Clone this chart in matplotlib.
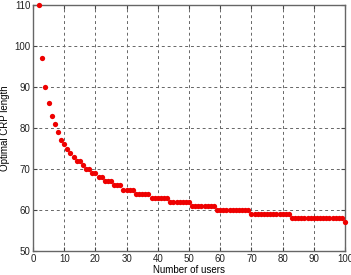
import matplotlib
matplotlib.use('Agg')
import matplotlib.pyplot as plt

plt.rcParams['font.family'] = ['Liberation Sans', 'DejaVu Sans']

# number of users 2..100 and the optimal CRP length
users = list(range(2, 101))
crp_len = [110, 97, 90, 86, 83, 81, 79, 77, 76, 75,
           74, 73, 72, 72, 71, 70, 70, 69, 69, 68,
           68, 67, 67, 67, 66, 66, 66, 65, 65, 65,
           65, 64, 64, 64, 64, 64, 63, 63, 63, 63,
           63, 63, 62, 62, 62, 62, 62, 62, 62, 61,
           61, 61, 61, 61, 61, 61, 61, 60, 60, 60,
           60, 60, 60, 60, 60, 60, 60, 60, 59, 59,
           59, 59, 59, 59, 59, 59, 59, 59, 59, 59,
           59, 58, 58, 58, 58, 58, 58, 58, 58, 58,
           58, 58, 58, 58, 58, 58, 58, 58, 57]

xticks = list(range(0, 101, 10))
yticks = list(range(50, 111, 10))

fig = plt.figure(figsize=(3.51, 2.75), dpi=100)
ax = fig.add_axes([0.094, 0.087, 0.889, 0.895])

ax.plot(users, crp_len, 'o', color='#ee0000', markersize=3.8,
        markeredgewidth=0, clip_on=False, zorder=3)

ax.set_xlim(0, 100)
ax.set_ylim(50, 110)
ax.set_xticks(xticks)
ax.set_yticks(yticks)
ax.grid(True, linestyle=(0, (3, 3)), color='#666666', linewidth=0.7)
ax.tick_params(direction='in', labelsize=7, length=3, top=True, right=True,
               color='#444444', labelcolor='#222222', pad=2)
for s in ax.spines.values():
    s.set_color('#666666')
    s.set_linewidth(1.0)

ax.set_xlabel('Number of users', fontsize=7, labelpad=1)
ax.set_ylabel('Optimal CRP length', fontsize=7, labelpad=3)

fig.savefig('out.png', dpi=100)
